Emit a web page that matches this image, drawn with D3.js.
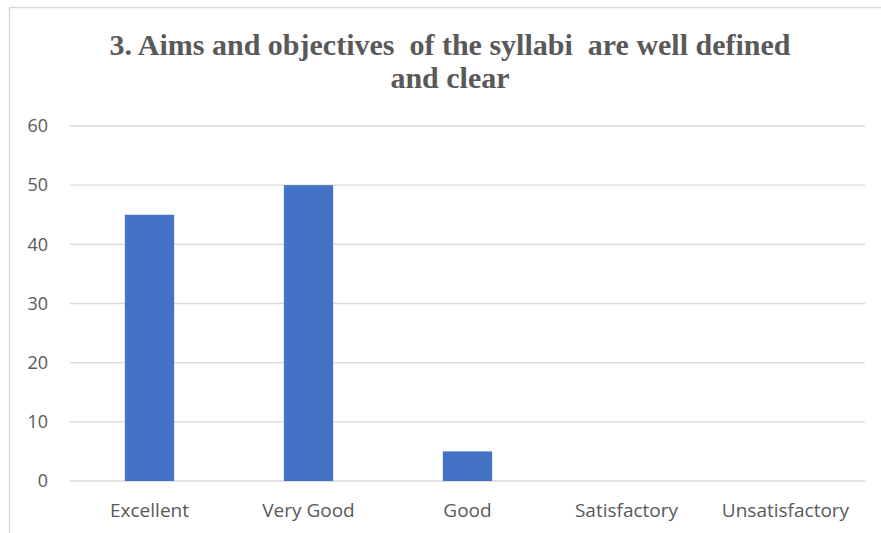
<!DOCTYPE html>
<html>
<head>
<meta charset="utf-8">
<script src="https://cdn.jsdelivr.net/npm/d3@7"></script>
<style>
  body { margin: 0; background: #fff; }
  svg { display: block; }
  .title { font-family: "Times New Roman", "Liberation Serif", "DejaVu Serif", serif; font-weight: bold; font-size: 30px; }
</style>
</head>
<body>
<svg id="chart" width="881" height="533"></svg>
<script>
const categories = ["Excellent", "Very Good", "Good", "Satisfactory", "Unsatisfactory"];
const values = [45, 50, 5, 0, 0];
const yTicks = [0, 10, 20, 30, 40, 50, 60];
const titleLines = ["3. Aims and objectives  of the syllabi  are well defined", "and clear"];

const svg = d3.select("#chart");
const W = 881, H = 533;
const m = { left: 70, right: 865, top: 126, bottom: 481 };

// chart frame (only top and left edges fall inside the picture)
svg.append("line").attr("x1", 9.5).attr("x2", W).attr("y1", 7.5).attr("y2", 7.5)
  .attr("stroke", "#d9d9d9").attr("stroke-width", 1.5);
svg.append("line").attr("x1", 9.5).attr("x2", 9.5).attr("y1", 7.5).attr("y2", H)
  .attr("stroke", "#d9d9d9").attr("stroke-width", 1.5);

const x = d3.scaleBand().domain(categories).range([m.left, m.right]).padding(0);
const y = d3.scaleLinear().domain([0, 60]).range([m.bottom, m.top]);

// gridlines
svg.append("g")
  .selectAll("line")
  .data(yTicks)
  .join("line")
  .attr("x1", m.left).attr("x2", m.right)
  .attr("y1", (d) => y(d)).attr("y2", (d) => y(d))
  .attr("stroke", "#d9d9d9").attr("stroke-width", 1.3);

// y labels
svg.append("g")
  .selectAll("text")
  .data(yTicks)
  .join("text")
  .attr("x", 48).attr("y", (d) => y(d))
  .attr("dy", "0.35em")
  .attr("text-anchor", "end")
  .attr("fill", "#595959")
  .attr("font-family", "Open Sans, sans-serif")
  .attr("font-size", 18)
  .text((d) => d);

// bars
const bw = x.bandwidth() * 0.31;
svg.append("g")
  .selectAll("rect")
  .data(categories)
  .join("rect")
  .attr("x", (d) => x(d) + x.bandwidth() / 2 - bw / 2)
  .attr("width", bw)
  .attr("y", (d, i) => y(values[i]))
  .attr("height", (d, i) => y(0) - y(values[i]))
  .attr("fill", "#4472c4");

// x labels
svg.append("g")
  .selectAll("text")
  .data(categories)
  .join("text")
  .attr("x", (d) => x(d) + x.bandwidth() / 2)
  .attr("y", 517)
  .attr("text-anchor", "middle")
  .attr("fill", "#595959")
  .attr("font-family", "Open Sans, sans-serif")
  .attr("font-size", 19)
  .text((d) => d);

// title
svg.append("g")
  .selectAll("text")
  .data(titleLines)
  .join("text")
  .attr("class", "title")
  .attr("x", 450)
  .attr("y", (d, i) => 55 + i * 33)
  .attr("text-anchor", "middle")
  .attr("fill", "#595959")
  .style("white-space", "pre")
  .text((d) => d);
</script>
</body>
</html>
